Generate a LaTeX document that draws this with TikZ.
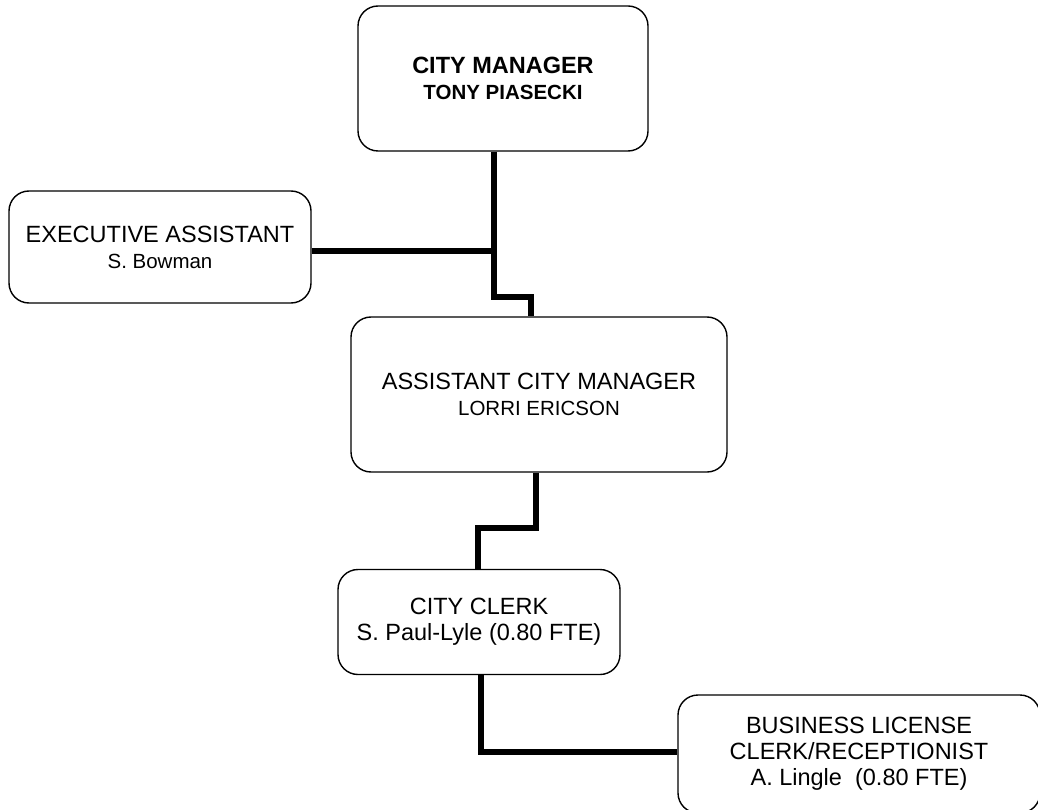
\documentclass[tikz,border=0pt]{standalone}
\usepackage{fontspec}
\setmainfont{Liberation Sans}
\newcommand{\ttl}{\fontsize{23.5}{26}\selectfont}
\newcommand{\nm}{\fontsize{20.5}{26}\selectfont}
\begin{document}
\begin{tikzpicture}[x=1pt,y=-1pt, line join=miter,
	orgbox/.style={draw,line width=1.4pt,rounded corners=20pt,align=center,inner sep=0pt,font=\ttl},
	link/.style={line width=6pt}]
	\useasboundingbox (0,0) rectangle (1038,810);
	\node[orgbox,minimum width=290,minimum height=145] (cm) at (503,78.5) {\textbf{CITY MANAGER}\\\nm\textbf{TONY PIASECKI}};
	\node[orgbox,minimum width=302,minimum height=112] (ea) at (160,247) {EXECUTIVE ASSISTANT\\\nm S. Bowman};
	\node[orgbox,minimum width=376,minimum height=155] (acm) at (539,394.5) {ASSISTANT CITY MANAGER\\\nm LORRI ERICSON};
	\node[orgbox,minimum width=282,minimum height=105] (cc) at (479,622) {CITY CLERK\\S. Paul-Lyle (0.80 FTE)};
	\node[orgbox,minimum width=362,minimum height=118] (bl) at (859,754) {BUSINESS LICENSE\\CLERK/RECEPTIONIST\\A. Lingle\ \ (0.80 FTE)};
	\coordinate (j1) at (494,251);
	\coordinate (j2) at (494,297);
	\coordinate (j3) at (531,297);
	\coordinate (j4) at (536,528);
	\coordinate (j5) at (478,528);
	\coordinate (j6) at (481,752);
	\draw[link] (cm.south -| j1) -- (j1);
	\draw[link] (ea.east |- j1) -- (j1);
	\draw[link] (j1) -- (j2) -- (j3) -- (acm.north -| j3);
	\draw[link] (acm.south -| j4) -- (j4) -- (j5) -- (cc.north -| j5);
	\draw[link] (cc.south -| j6) -- (j6) -- (bl.west |- j6);
\end{tikzpicture}
\end{document}
